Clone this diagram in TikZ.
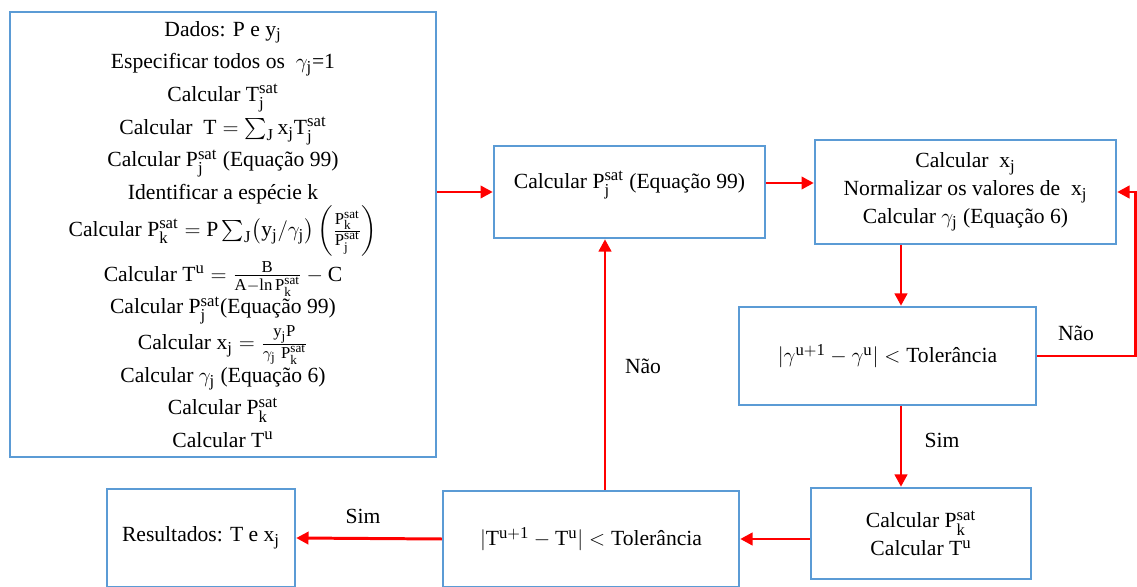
\documentclass[tikz,border=0pt]{standalone}
\usepackage{fontspec}
\setmainfont{Liberation Serif}
\usepackage{amsmath}
\DeclareMathSizes{12.3}{12.3}{9.5}{7.5}
\usetikzlibrary{arrows.meta, calc, positioning}
\definecolor{BoxBlue}{HTML}{5B9BD5}
\definecolor{ArrRed} {HTML}{FF0000}
\newcommand{\mr}[1]{\mathrm{#1}}
\tikzset{
  blk/.style args={#1/#2}{
    rectangle, draw=BoxBlue, fill=white,
    line width=1.4pt, align=center,
    font=\fontsize{12.3}{16}\selectfont,
    inner sep=4pt, minimum width=#1, minimum height=#2,
  },
  arr/.style={
    -{Triangle[length=7pt,width=7pt]},
    line width=1.7pt, color=ArrRed,
  },
  lbl/.style={
    font=\fontsize{12.3}{15}\selectfont, inner sep=1pt,
  },
}

\begin{document}
\begin{tikzpicture}[x=0.02cm,y=-0.02cm]
    \useasboundingbox (0,0) rectangle (1137,587);
    % boxes
    \node[blk=8.52cm/8.9cm, font=\fontsize{12.3}{18.6}\selectfont] (A) at (223,234.5) {%
      Dados: P e $\mr{y_j}$\\
      Especificar todos os \ $\gamma_\mr{j}$=1\\
      Calcular $\mr{T_j^{sat}}$\\
      Calcular \ $\mr{T}=\sum_\mr{J}\mr{x_j}\mr{T_j^{sat}}$\\
      Calcular $\mr{P_j^{sat}}$ (Equação 99)\\
      Identificar a espécie k\\
      Calcular $\mr{P_k^{sat}}=\mr{P}\sum_\mr{J}\bigl(\mr{y_j}/\gamma_\mr{j}\bigr)\left(\frac{\mr{P_k^{sat}}}{\mr{P_j^{sat}}}\right)$\\[2pt]
      Calcular $\mr{T^u}=\frac{\mr{B}}{\mr{A}-\ln\mr{P_k^{sat}}}-\mr{C}$\\
      Calcular $\mr{P_j^{sat}}$(Equação 99)\\
      Calcular $\mr{x_j}=\frac{\mr{y_jP}}{\gamma_\mr{j}\ \mr{P_k^{sat}}}$\\
      Calcular $\gamma_\mr{j}$ (Equação 6)\\
      Calcular $\mr{P_k^{sat}}$\\
      Calcular $\mr{T^u}$};
    \node[blk=5.42cm/1.84cm] (B) at (629.5,192) {Calcular $\mr{P_j^{sat}}$ (Equação 99)\\[-2.4pt]};
    \node[blk=6.02cm/2.08cm] (C) at (965.5,192) {Calcular \ $\mr{x_j}$\\
      Normalizar os valores de \ $\mr{x_j}$\\
      Calcular $\gamma_\mr{j}$ (Equação 6)};
    \node[blk=5.94cm/1.96cm] (D) at (887.5,356) {$|\gamma^\mr{u+1}-\gamma^\mr{u}|<\text{Tolerância}$};
    \node[blk=4.4cm/1.82cm] (E) at (921,533.5) {Calcular $\mr{P_k^{sat}}$\\Calcular $\mr{T^u}$};
    \node[blk=5.92cm/1.92cm] (F) at (591,539) {$|\mr{T^{u+1}}-\mr{T^u}|<\text{Tolerância}$};
    \node[blk=3.76cm/1.96cm] (G) at (201,538) {Resultados: T e $\mr{x_j}$};
    % helper columns
    \coordinate (c1) at (901,0);
    \coordinate (c2) at (605,0);
    \coordinate (r)  at (1135,0);
    % connectors
    \draw[arr] (A.east |- B.west) -- (B.west);
    \draw[arr] ([yshift=0.18cm]B.east) -- ([yshift=0.18cm]B.east -| C.west);
    \draw[arr] (c1 |- C.south) -- (c1 |- D.north);
    \draw[arr] (D.east) -- (D.east -| r) |- (C.east);
    \draw[arr] (c1 |- D.south) -- (c1 |- E.north);
    \draw[arr] (E.west |- F.east) -- (F.east);
    \draw[arr] (c2 |- F.north) -- (c2 |- B.south);
    \draw[arr] (F.west) -- (G.east);
    % labels
    \node[lbl] (nao1) at (1076,333) {Não};
    \node[lbl] (sim1) at (942,440)  {Sim};
    \node[lbl] (nao2) at (643,366)  {Não};
    \node[lbl] (sim2) at (363,516)  {Sim};
\end{tikzpicture}
\end{document}
